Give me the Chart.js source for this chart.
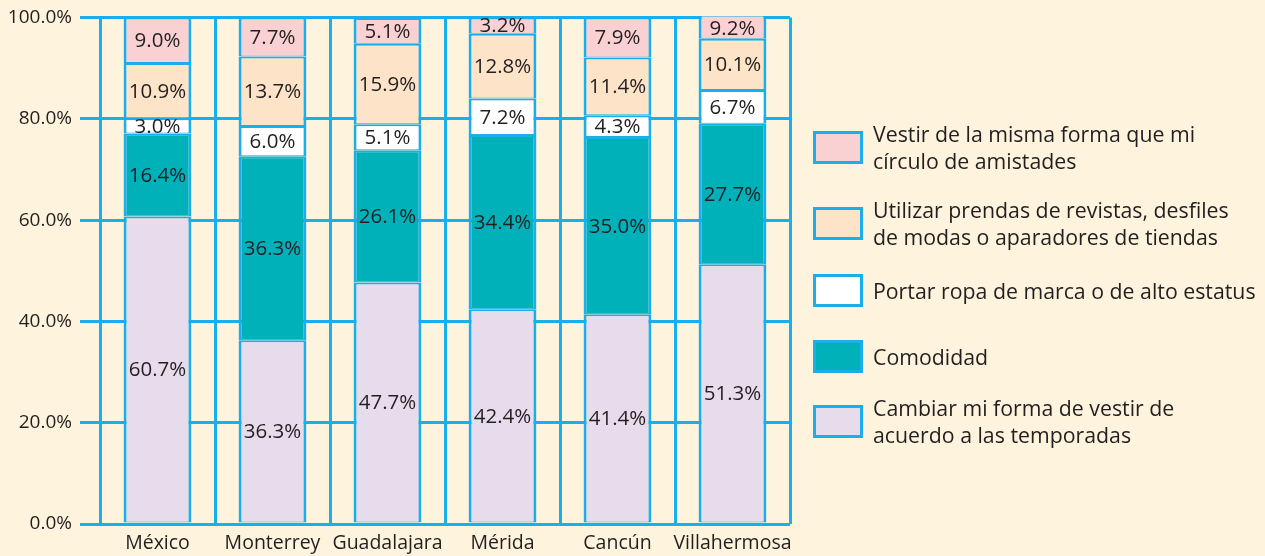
<!DOCTYPE html>
<html lang="es">
<head>
<meta charset="utf-8">
<title>Motivos al vestir por ciudad</title>
<script src="https://cdn.jsdelivr.net/npm/chart.js@4.4.1/dist/chart.umd.min.js"></script>
<style>
  html, body { margin: 0; padding: 0; background: #fef3dd; }
  #wrap { position: relative; width: 1265px; height: 556px; }
  #grafica { position: absolute; left: 0; top: 0; }
  .leyenda-item { position: absolute; left: 813px; display: flex; align-items: center; }
  .caja { width: 44px; height: 27px; border: 3px solid #19aeec; flex: none; }
  .texto { margin-left: 10px; font: 21.3px "Open Sans", sans-serif; color: #231f20; line-height: 27px; white-space: pre-line; }
</style>
</head>
<body>
<div id="wrap">
  <canvas id="grafica" width="1265" height="556"></canvas>
  <div id="leyenda"></div>
</div>
<script>
// ciudades y porcentajes por motivo
const ciudades = ["México", "Monterrey", "Guadalajara", "Mérida", "Cancún", "Villahermosa"];
const cambiar = [60.7, 36.3, 47.7, 42.4, 41.4, 51.3];
const comodidad = [16.4, 36.3, 26.1, 34.4, 35.0, 27.7];
const portar = [3.0, 6.0, 5.1, 7.2, 4.3, 6.7];
const utilizar = [10.9, 13.7, 15.9, 12.8, 11.4, 10.1];
const vestir = [9.0, 7.7, 5.1, 3.2, 7.9, 9.2];
const yTicks = [0, 20, 40, 60, 80, 100];

const nombres = [
  "Cambiar mi forma de vestir de\nacuerdo a las temporadas",
  "Comodidad",
  "Portar ropa de marca o de alto estatus",
  "Utilizar prendas de revistas, desfiles\nde modas o aparadores de tiendas",
  "Vestir de la misma forma que mi\ncírculo de amistades"
];
const colores = ["#e7dcec", "#00b1ba", "#ffffff", "#fde3c8", "#f9d1d2"];
const azul = "#19aeec";
const texto = "#231f20";
const fuente = '"Open Sans", sans-serif';

Chart.defaults.font.family = fuente;
Chart.defaults.font.size = 19;
Chart.defaults.color = texto;

const series = [cambiar, comodidad, portar, utilizar, vestir];
const datasets = series.map((valores, i) => ({
  label: nombres[i],
  data: valores,
  backgroundColor: colores[i],
  borderColor: azul,
  borderWidth: { top: 2, bottom: 1, left: 3, right: 3 },
  borderSkipped: false,
  barPercentage: 0.59,
  categoryPercentage: 1,
  clip: { left: 5, top: 1, right: 5, bottom: 5 }
}));

// texto con el porcentaje al centro de cada tramo
const etiquetas = {
  id: "etiquetas",
  afterDatasetsDraw(chart) {
    const { ctx, chartArea } = chart;
    ctx.save();
    ctx.font = "20.5px " + fuente;
    ctx.fillStyle = texto;
    ctx.textAlign = "center";
    ctx.textBaseline = "middle";
    chart.data.datasets.forEach((ds, i) => {
      chart.getDatasetMeta(i).data.forEach((barra, j) => {
        const arriba = Math.max(barra.y, chartArea.top);
        ctx.fillText(ds.data[j].toFixed(1) + "%", barra.x, (arriba + barra.base) / 2 + 1);
      });
    });
    ctx.restore();
  }
};

let context = document.getElementById("grafica").getContext("2d");
let chart = new Chart(context, {
  type: "bar",
  data: { labels: ciudades, datasets: datasets },
  options: {
    responsive: false,
    animation: false,
    layout: { padding: { top: 16, right: 475, bottom: 0, left: 0 } },
    plugins: { legend: { display: false }, tooltip: { enabled: false } },
    scales: {
      x: {
        stacked: true,
        grid: { offset: true, color: azul, lineWidth: 3, drawTicks: false },
        border: { display: false },
        ticks: { padding: 8, color: texto, font: { size: 19.5 }, maxRotation: 0, minRotation: 0, autoSkip: false },
        afterFit: (s) => { s.height = 32; }
      },
      y: {
        stacked: true,
        min: 0,
        max: 100,
        afterBuildTicks: (s) => { s.ticks = yTicks.map(v => ({ value: v })); },
        ticks: { padding: 8, color: texto, font: { lineHeight: 1 }, callback: (v) => v.toFixed(1) + "%" },
        grid: { color: azul, lineWidth: 3, tickLength: 20 },
        border: { display: false },
        afterFit: (s) => { s.width = 100; }
      }
    }
  },
  plugins: [etiquetas]
});

// leyenda a la derecha, de arriba hacia abajo
const topes = [131, 207, 272, 338, 405];
const leyenda = document.getElementById("leyenda");
for (let k = 0; k < nombres.length; k++) {
  const i = nombres.length - 1 - k;
  const dosLineas = nombres[i].includes("\n");
  const item = document.createElement("div");
  item.className = "leyenda-item";
  item.style.top = (dosLineas ? topes[k] - 11 : topes[k] + 2) + "px";
  item.innerHTML = `<div class="caja" style="background:${colores[i]}"></div><div class="texto"></div>`;
  item.querySelector(".texto").textContent = nombres[i];
  leyenda.appendChild(item);
}
</script>
</body>
</html>
